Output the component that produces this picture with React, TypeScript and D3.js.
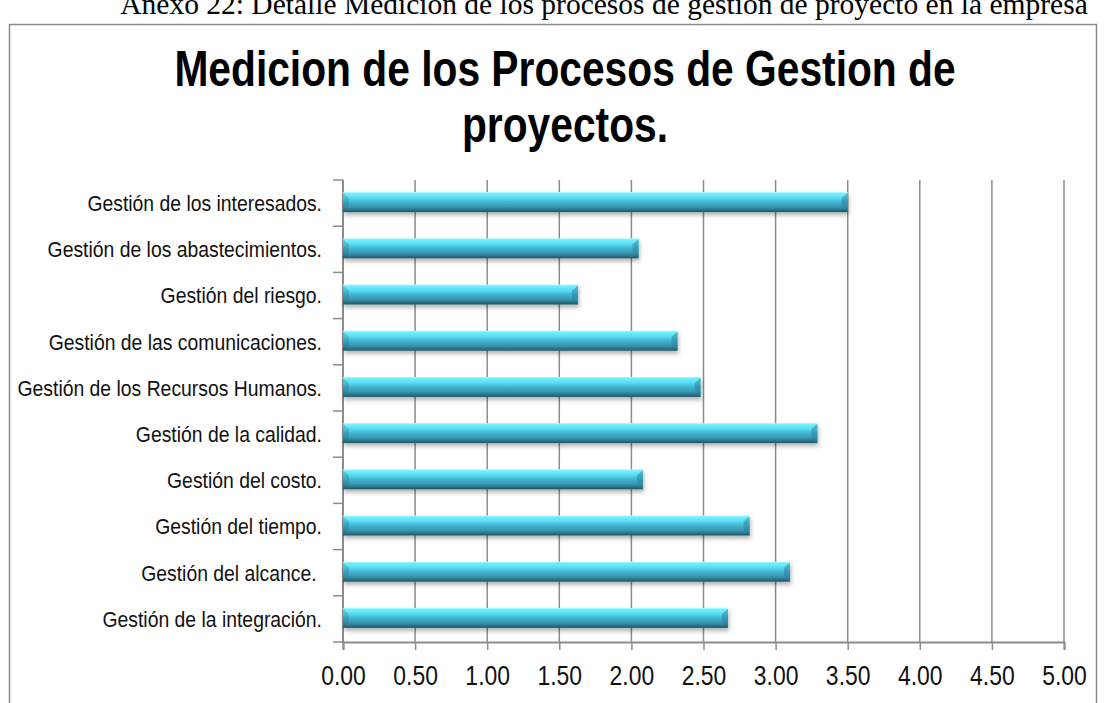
import React, { useEffect, useRef } from 'react';
import * as d3 from 'd3';

// top to bottom, as shown in the chart
const categories = [
    'Gestión de los interesados.',
    'Gestión de los abastecimientos.',
    'Gestión del riesgo.',
    'Gestión de las comunicaciones.',
    'Gestión de los Recursos Humanos.',
    'Gestión de la calidad.',
    'Gestión del costo.',
    'Gestión del tiempo.',
    'Gestión del alcance. ',
    'Gestión de la integración.',
];
const values = [3.5, 2.05, 1.63, 2.32, 2.48, 3.29, 2.08, 2.82, 3.1, 2.67];
const xTicks = [0, 0.5, 1, 1.5, 2, 2.5, 3, 3.5, 4, 4.5, 5];
const titleLines = ['Medicion de los Procesos de Gestion de', 'proyectos.'];
const caption = 'Anexo 22: Detalle Medicion de los procesos de gestion de proyecto en la empresa';

// no narrow font installed, so squeeze Liberation Sans horizontally
const sans = '"Liberation Sans", Arial, sans-serif';

const App = () => {
    const svgRef = useRef<SVGSVGElement>(null);

    useEffect(() => {
        if (!svgRef.current) return;
        const width = 1107;
        const height = 703;

        const svg = d3.select(svgRef.current);
        svg.selectAll('*').remove();
        svg.attr('width', width).attr('height', height);

        const defs = svg.append('defs');
        const grad = defs.append('linearGradient')
            .attr('id', 'barGrad')
            .attr('x1', 0).attr('y1', 0).attr('x2', 0).attr('y2', 1);
        [
            [0, '#b8f8ff'],
            [0.08, '#72effd'],
            [0.3, '#58dcf2'],
            [0.5, '#40b5d1'],
            [0.72, '#3a9ab4'],
            [0.86, '#2e7a8f'],
            [1, '#1f5565'],
        ].forEach(([o, c]) => grad.append('stop').attr('offset', o as number).attr('stop-color', c as string));

        const shadow = defs.append('filter').attr('id', 'shadow')
            .attr('x', '-5%').attr('y', '-30%').attr('width', '110%').attr('height', '190%');
        shadow.append('feDropShadow')
            .attr('dx', 1).attr('dy', 3).attr('stdDeviation', 2)
            .attr('flood-color', '#000').attr('flood-opacity', 0.3);

        // caption of the page, cut at the top
        svg.append('text')
            .attr('x', 604)
            .attr('y', 14)
            .attr('text-anchor', 'middle')
            .attr('font-family', '"Liberation Serif", "Times New Roman", serif')
            .attr('font-size', 29.5)
            .attr('fill', '#000')
            .text(caption);

        // chart frame
        svg.append('rect')
            .attr('x', 9.5).attr('y', 24.5)
            .attr('width', 1087).attr('height', 720)
            .attr('fill', '#fff')
            .attr('stroke', '#8a8a8a')
            .attr('stroke-width', 1.5);

        // title
        svg.append('text')
            .attr('transform', 'translate(565,0) scale(0.815,1)')
            .attr('text-anchor', 'middle')
            .attr('font-family', sans)
            .attr('font-weight', 'bold')
            .attr('font-size', 50)
            .attr('fill', '#000')
            .selectAll('tspan')
            .data(titleLines)
            .join('tspan')
            .attr('x', 0)
            .attr('y', (d, i) => 86 + i * 56)
            .text(d => d);

        const margin = { top: 180, left: 343, right: 1064, bottom: 642 };

        const x = d3.scaleLinear().domain([0, 5]).range([margin.left, margin.right]);
        const y = d3.scaleBand().domain(categories).range([margin.top, margin.bottom]);

        const grey = '#8c8c8c';

        // vertical gridlines
        svg.append('g')
            .selectAll('line')
            .data(xTicks.slice(1))
            .join('line')
            .attr('x1', d => x(d)).attr('x2', d => x(d))
            .attr('y1', margin.top).attr('y2', margin.bottom)
            .attr('stroke', grey)
            .attr('stroke-width', 1.5);

        // x axis
        const xAxis = svg.append('g')
            .attr('transform', `translate(0,${margin.bottom})`)
            .call(d3.axisBottom(x).tickValues(xTicks).tickSize(8).tickPadding(16).tickFormat(d => (d as number).toFixed(2)));
        xAxis.select('.domain').attr('stroke', grey).attr('stroke-width', 2);
        xAxis.selectAll('.tick line').attr('stroke', grey).attr('stroke-width', 1.5);
        xAxis.selectAll('.tick text')
            .attr('transform', 'scale(0.85,1)')
            .attr('font-family', sans)
            .attr('font-size', 27)
            .attr('fill', '#111');

        // y axis: ticks sit on the band edges
        const yAxis = svg.append('g');
        yAxis.append('line')
            .attr('x1', margin.left).attr('x2', margin.left)
            .attr('y1', margin.top).attr('y2', margin.bottom)
            .attr('stroke', grey).attr('stroke-width', 2);
        const edges = categories.map(c => y(c) as number).concat([margin.bottom]);
        yAxis.selectAll('line.edge')
            .data(edges)
            .join('line')
            .attr('class', 'edge')
            .attr('x1', margin.left - 10).attr('x2', margin.left)
            .attr('y1', d => d).attr('y2', d => d)
            .attr('stroke', grey).attr('stroke-width', 1.5);
        yAxis.selectAll('text')
            .data(categories)
            .join('text')
            .attr('transform', d => `translate(322,${(y(d) as number) + y.bandwidth() / 2}) scale(0.88,1)`)
            .attr('dy', '0.36em')
            .attr('text-anchor', 'end')
            .attr('font-family', sans)
            .attr('font-size', 22)
            .attr('fill', '#111')
            .style('white-space', 'pre')
            .text(d => d);

        // bars
        const barH = 20;
        const bev = 6;
        const bars = svg.append('g')
            .selectAll('g')
            .data(categories.map((c, i) => ({ c, v: values[i] })))
            .join('g')
            .attr('transform', d => `translate(0,${(y(d.c) as number) + y.bandwidth() / 2 - barH / 2 - 1})`);

        bars.append('rect')
            .attr('x', x(0))
            .attr('y', 0)
            .attr('width', d => x(d.v) - x(0))
            .attr('height', barH)
            .attr('fill', 'url(#barGrad)')
            .attr('filter', 'url(#shadow)');

        // left bevel
        bars.append('path')
            .attr('d', () => {
                const x0 = x(0);
                return `M${x0},1 L${x0 + bev},${bev} L${x0 + bev},${barH - bev} L${x0},${barH} Z`;
            })
            .attr('fill', '#1f6478')
            .attr('opacity', 0.25);

        // right bevel
        bars.append('path')
            .attr('d', d => {
                const x1 = x(d.v);
                return `M${x1},1 L${x1 - bev},${bev} L${x1 - bev},${barH - bev} L${x1},${barH} Z`;
            })
            .attr('fill', '#2a7f97')
            .attr('opacity', 0.5);
    }, []);

    return (
        <svg ref={svgRef} style={{ position: 'absolute', left: 0, top: 0, display: 'block' }} />
    );
};

export default App;
